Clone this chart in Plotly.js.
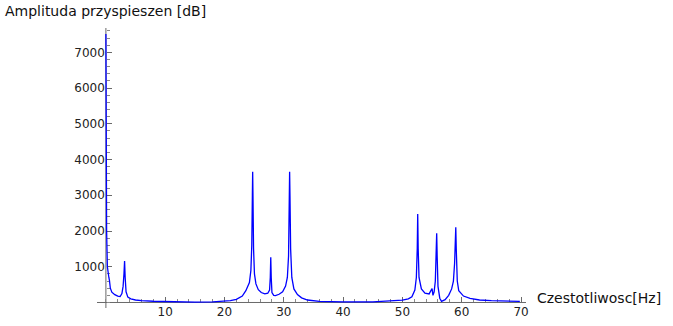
<!DOCTYPE html>
<html>
<head>
<meta charset="utf-8">
<script src="https://cdn.plot.ly/plotly-3.0.1.min.js"></script>
<style>html,body{margin:0;padding:0;background:#fff;}#chart{width:673px;height:326px;}</style>
</head>
<body>
<div id="chart"></div>
<script>
const xTitle = "Czestotliwosc[Hz]";
const yTitle = "Amplituda przyspieszen [dB]";
const xTickVals = [10, 20, 30, 40, 50, 60, 70];
const yTickVals = [1000, 2000, 3000, 4000, 5000, 6000, 7000];

const freq = [0, 0.05, 0.12, 0.25, 0.4, 0.5, 0.6, 0.75, 1.0, 1.5, 2.0, 2.4, 2.7, 2.9, 3.05, 3.15, 3.25, 3.4, 3.7, 4.2, 5, 6, 8, 10, 12, 15, 18, 20, 21, 22, 23, 23.6, 23.9, 24.2, 24.45, 24.6, 24.7, 24.75, 24.8, 24.9, 25.05, 25.3, 25.7, 26.2, 26.8, 27.3, 27.6, 27.72, 27.8, 27.88, 28.0, 28.3, 28.6, 29.2, 29.8, 30.3, 30.6, 30.8, 30.92, 30.98, 31.04, 31.15, 31.35, 31.7, 32.3, 33, 34, 36, 40, 45, 48, 50, 51, 51.6, 52.1, 52.35, 52.5, 52.58, 52.66, 52.8, 53.2, 53.8, 54.5, 54.85, 55.0, 55.15, 55.35, 55.55, 55.7, 55.78, 55.86, 56.0, 56.3, 56.6, 57.2, 57.8, 58.3, 58.6, 58.8, 58.92, 59.0, 59.08, 59.25, 59.5, 60.3, 61.4, 63, 65, 67, 69.8];
const amplitude = [7510, 4000, 2000, 1000, 720, 700, 620, 400, 290, 220, 180, 165, 250, 450, 800, 1160, 700, 300, 150, 100, 70, 50, 35, 25, 15, 10, 15, 30, 50, 90, 180, 330, 440, 560, 900, 1600, 3000, 3660, 3000, 1500, 800, 520, 360, 280, 240, 260, 350, 700, 1265, 700, 280, 200, 190, 230, 300, 460, 700, 1300, 3000, 3660, 3000, 1500, 700, 380, 220, 130, 70, 30, 15, 20, 40, 65, 100, 160, 350, 700, 1500, 2476, 1500, 700, 380, 260, 240, 320, 390, 200, 300, 600, 1300, 1936, 1300, 450, 120, 30, 80, 200, 380, 600, 1100, 2050, 2104, 1500, 600, 330, 180, 117, 70, 50, 40, 30];

const FONT = 'DejaVu Sans, sans-serif';
const W = 673, H = 326;
const L = 97, R = 526, T = 28, B = 308;
const xRange = [-1.5, 70.84];
const yRange = [-154, 7680];
const xPos = (0 - yRange[0]) / (yRange[1] - yRange[0]);
const yPos = (0 - xRange[0]) / (xRange[1] - xRange[0]);
const AXIS = '#6a6a6a';

function px2paperX(px) { return (px - L) / (R - L); }
function px2paperY(py) { return (B - py) / (B - T); }

const trace = {
  x: freq, y: amplitude, type: 'scatter', mode: 'lines',
  line: {color: '#0000ff', width: 1.3},
  hoverinfo: 'skip'
};

const layout = {
  width: W, height: H,
  margin: {l: L, r: W - R, t: T, b: H - B, pad: 0},
  paper_bgcolor: '#ffffff', plot_bgcolor: '#ffffff',
  showlegend: false,
  font: {family: FONT, size: 12, color: '#222'},
  xaxis: {
    range: xRange, anchor: 'free', position: xPos,
    layer: 'below traces',
    showgrid: false, zeroline: false, showline: false,
    tickmode: 'array', tickvals: xTickVals, ticktext: xTickVals.map(String),
    ticks: 'inside', ticklen: 5, tickcolor: AXIS, tickwidth: 1,
    minor: {dtick: 2, tick0: 0, ticks: 'inside', ticklen: 3, tickcolor: '#8a8a8a', showgrid: false},
    tickfont: {family: FONT, size: 12, color: '#222'},
    ticklabelstandoff: 1
  },
  yaxis: {
    range: yRange, anchor: 'free', position: yPos,
    layer: 'below traces',
    showgrid: false, zeroline: false, showline: false,
    tickmode: 'array', tickvals: yTickVals, ticktext: yTickVals.map(String),
    ticks: 'inside', ticklen: 5, tickcolor: AXIS, tickwidth: 1,
    minor: {dtick: 200, tick0: 0, ticks: 'inside', ticklen: 3, tickcolor: '#8a8a8a', showgrid: false},
    tickfont: {family: FONT, size: 12, color: '#222'},
    ticklabelstandoff: 1
  },
  shapes: [
    {type: 'line', xref: 'paper', yref: 'paper', x0: 0, x1: 1, y0: xPos, y1: xPos,
     line: {color: AXIS, width: 1}, layer: 'below'},
    {type: 'line', xref: 'paper', yref: 'paper', x0: yPos, x1: yPos, y0: 0, y1: 1,
     line: {color: AXIS, width: 1}, layer: 'below'}
  ],
  annotations: [
    {text: yTitle, xref: 'paper', yref: 'paper', x: px2paperX(3), y: px2paperY(11),
     xanchor: 'left', yanchor: 'middle', showarrow: false,
     font: {family: FONT, size: 14, color: '#111'}},
    {text: xTitle, xref: 'paper', yref: 'paper', x: px2paperX(535), y: px2paperY(298),
     xanchor: 'left', yanchor: 'middle', showarrow: false,
     font: {family: FONT, size: 14, color: '#111'}}
  ]
};

Plotly.newPlot('chart', [trace], layout, {displayModeBar: false, staticPlot: true});
</script>
</body>
</html>
